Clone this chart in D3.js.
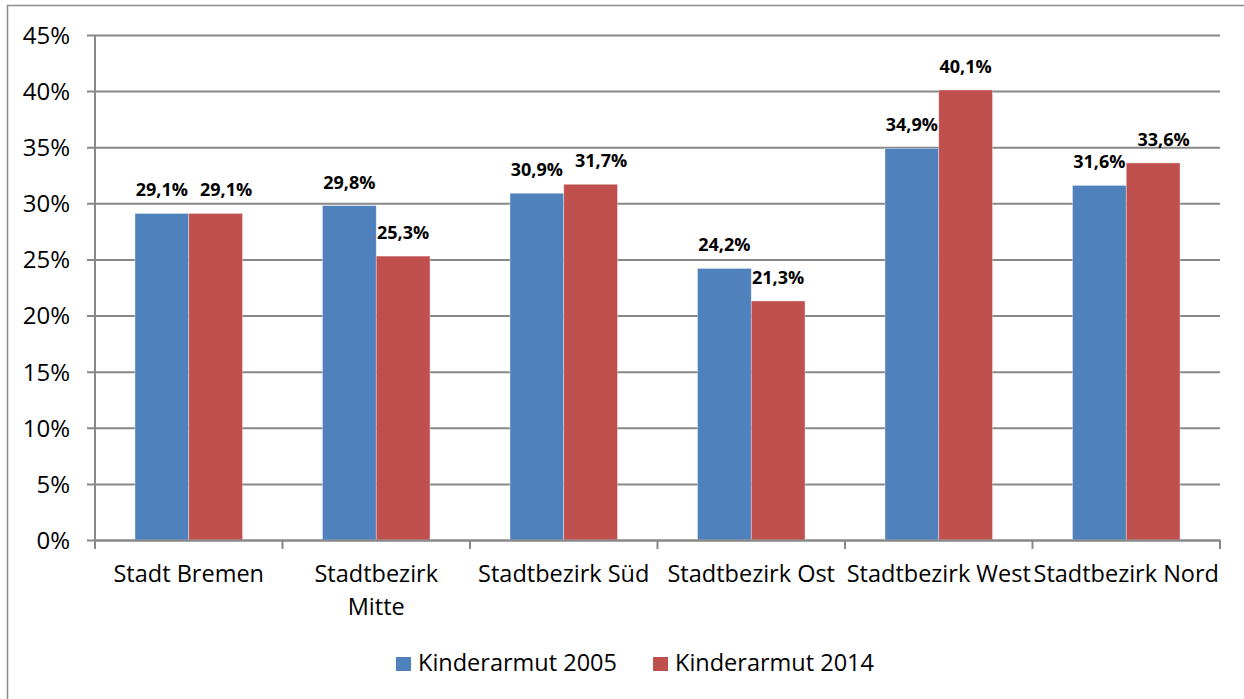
<!DOCTYPE html>
<html>
<head>
<meta charset="utf-8">
<script src="https://cdn.jsdelivr.net/npm/d3@7"></script>
<style>
  html, body { margin: 0; padding: 0; background: #fff; }
  svg { display: block; }
  text { font-family: "Open Sans", "Noto Sans", sans-serif; fill: #000; }
</style>
</head>
<body>
<svg id="chart" width="1244" height="699"></svg>
<script>
const categories = ["Stadt Bremen", "Stadtbezirk\nMitte", "Stadtbezirk Süd", "Stadtbezirk Ost", "Stadtbezirk West", "Stadtbezirk Nord"];
const seriesNames = ["Kinderarmut 2005", "Kinderarmut 2014"];
const values2005 = [29.1, 29.8, 30.9, 24.2, 34.9, 31.6];
const values2014 = [29.1, 25.3, 31.7, 21.3, 40.1, 33.6];
const yTicks = [0, 5, 10, 15, 20, 25, 30, 35, 40, 45];
const colors = ["#4F81BD", "#C0504D"];

const svg = d3.select("#chart");
const mLeft = 95, mRight = 1220, mTop = 35, mBottom = 540;

// outer chart border
svg.append("rect").attr("x", 7.5).attr("y", 5.5).attr("width", 1260).attr("height", 720)
  .attr("fill", "none").attr("stroke", "#8c8c8c").attr("stroke-width", 1.5);

const y = d3.scaleLinear().domain([0, 45]).range([mBottom, mTop]);
const x0 = d3.scaleBand().domain(categories).range([mLeft, mRight]).padding(0);
const gp = x0.bandwidth() * 0.2133;
const x1 = d3.scaleBand().domain(seriesNames).range([gp, x0.bandwidth() - gp]).padding(0);

// gridlines
const yAxis = d3.axisLeft(y).tickValues(yTicks).tickSize(-(mRight - mLeft + 8)).tickPadding(17)
  .tickFormat(d => d + "%");
const gy = svg.append("g").attr("transform", `translate(${mLeft - 8},0)`).call(yAxis);
gy.select(".domain").remove();
gy.selectAll(".tick line").attr("stroke", "#888").attr("stroke-width", 2);
gy.selectAll(".tick text").attr("font-size", 24).attr("dy", "0.35em").attr("fill", "#000");

// bars
const data = categories.map((c, i) => ({ c, vals: [values2005[i], values2014[i]] }));
const groups = svg.append("g").selectAll("g").data(data).join("g")
  .attr("transform", d => `translate(${x0(d.c)},0)`);
groups.selectAll("rect").data(d => d.vals.map((v, j) => ({ v, s: seriesNames[j], j })))
  .join("rect")
  .attr("x", d => x1(d.s))
  .attr("y", d => y(d.v))
  .attr("width", x1.bandwidth())
  .attr("height", d => y(0) - y(d.v))
  .attr("fill", d => colors[d.j])
  .attr("stroke", "rgba(255,255,255,0.5)").attr("stroke-width", 0.7);

groups.each(function() {
  const g = d3.select(this);
  const labels = g.selectAll("text.lbl").data(d => d.vals.map((v, j) => ({ v, s: seriesNames[j], j })))
    .join("text").attr("class", "lbl")
    .attr("x", d => x1(d.s) + x1.bandwidth() / 2)
    .attr("y", d => y(d.v) - 17)
    .attr("text-anchor", "middle")
    .attr("font-size", 18).attr("font-weight", "bold")
    .text(d => d.v.toFixed(1).replace(".", ",") + "%");
  // resolve overlap: shift second label right if it collides with the first
  const nodes = labels.nodes();
  const b0 = nodes[0].getBBox(), b1 = nodes[1].getBBox();
  const vOverlap = !(b1.y > b0.y + b0.height || b0.y > b1.y + b1.height);
  const minGap = 12;
  if (vOverlap && b1.x < b0.x + b0.width + minGap) {
    const shift = b0.x + b0.width + minGap - b1.x;
    d3.select(nodes[1]).attr("x", +d3.select(nodes[1]).attr("x") + shift);
  }
});

// y axis line
svg.append("line").attr("x1", mLeft).attr("x2", mLeft).attr("y1", mTop).attr("y2", mBottom + 9)
  .attr("stroke", "#888").attr("stroke-width", 2);

// x axis
const xAxis = d3.axisBottom(x0).tickSize(0).tickFormat("");
const gx = svg.append("g").attr("transform", `translate(0,${mBottom})`).call(xAxis);
gx.select(".domain").attr("stroke", "#888").attr("stroke-width", 2);
const bounds = categories.map(c => x0(c)).concat([mRight]);
svg.append("g").selectAll("line").data(bounds).join("line")
  .attr("x1", d => d).attr("x2", d => d).attr("y1", mBottom).attr("y2", mBottom + 9)
  .attr("stroke", "#888").attr("stroke-width", 2);

// category labels
svg.append("g").selectAll("text").data(categories).join("text")
  .attr("x", d => x0(d) + x0.bandwidth() / 2)
  .attr("y", 582)
  .attr("text-anchor", "middle")
  .attr("font-size", 23.5)
  .each(function(d) {
    const lines = d.split("\n");
    d3.select(this).selectAll("tspan").data(lines).join("tspan")
      .attr("x", x0(d) + x0.bandwidth() / 2)
      .attr("dy", (l, i) => i === 0 ? 0 : 33)
      .text(l => l);
  });

// legend
const legendX = [396, 653];
const lg = svg.append("g").selectAll("g").data(seriesNames).join("g")
  .attr("transform", (d, i) => `translate(${legendX[i]},657)`);
lg.append("rect").attr("width", 15).attr("height", 14).attr("fill", (d, i) => colors[i]);
lg.append("text").attr("x", 22).attr("y", 14).attr("font-size", 23.5).text(d => d);
</script>
</body>
</html>
